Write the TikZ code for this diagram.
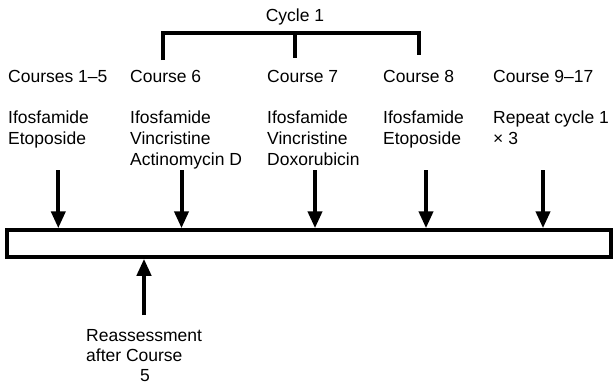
\documentclass[tikz,border=0pt]{standalone}
\usepackage{fontspec}
\setmainfont{Liberation Sans}
\usetikzlibrary{arrows.meta}
\begin{document}
\begin{tikzpicture}[x=1pt,y=-1pt,
  lbl/.style={font=\fontsize{17.5}{21}\selectfont, inner sep=0pt, anchor=base west, align=left},
  brk/.style={line width=4pt},
  arr/.style={line width=4pt, -{Triangle[width=14pt,length=17pt]}},
  barbox/.style={draw, line width=3.5pt, minimum width=604pt, minimum height=27pt, inner sep=0pt}]
\useasboundingbox (0,0) rectangle (613,386);
% Cycle bracket
\node[lbl, anchor=base] (cycle) at (295,21.7) {Cycle 1};
\coordinate (bl) at (163,60);
\coordinate (bm) at (295,58);
\coordinate (br) at (419,55);
\coordinate (tl) at (163,33);
\coordinate (tm) at (295,33);
\coordinate (tr) at (419,33);
\draw[brk] (bl) -- (tl) -- (tr) -- (br);
\draw[brk] (tm) -- (bm);
% course headings
\node[lbl] (c1) at (8,82.7) {Courses 1–5};
\node[lbl] (c6) at (130,82.7) {Course 6};
\node[lbl] (c7) at (267,82.7) {Course 7};
\node[lbl] (c8) at (383,82.7) {Course 8};
\node[lbl] (c9) at (493,82.7) {Course 9–17};
% drugs (anchor = baseline of last line)
\node[lbl] (d1) at (8,144.3) {Ifosfamide\\Etoposide};
\node[lbl] (d6) at (130,165.3) {Ifosfamide\\Vincristine\\Actinomycin D};
\node[lbl] (d7) at (267,165.3) {Ifosfamide\\Vincristine\\Doxorubicin};
\node[lbl] (d8) at (383,144.3) {Ifosfamide\\Etoposide};
\node[lbl] (d9) at (493,144.3) {Repeat cycle 1\\× 3};
% bar
\node[barbox] (bar) at (309,243.5) {};
% arrows
\coordinate (a1) at (58.3,170);
\coordinate (a6) at (181.5,170);
\coordinate (a7) at (315,170);
\coordinate (a8) at (426,170);
\coordinate (a9) at (543,170);
\foreach \a in {a1,a6,a7,a8,a9}{
  \draw[arr] (\a) -- (\a |- bar.north);
}
\coordinate (r) at (144,315);
\draw[arr] (r) -- (r |- bar.south);
\node[lbl, font=\fontsize{17.5}{20}\selectfont] (re) at (86,381.7) {Reassessment\\after Course\\\hspace*{54pt}5};
\end{tikzpicture}
\end{document}
